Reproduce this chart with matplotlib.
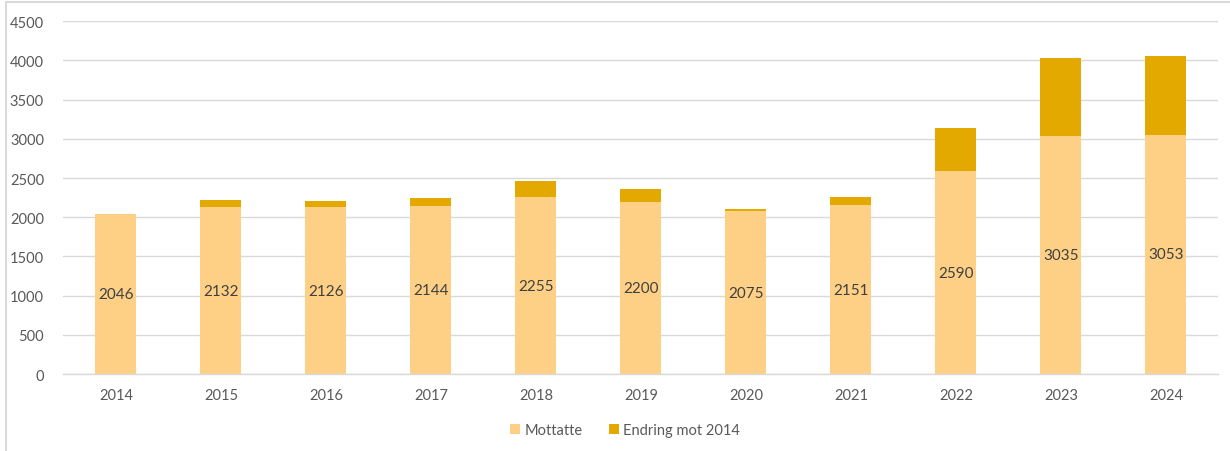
import numpy as np
import matplotlib.pyplot as plt
from matplotlib.patches import Rectangle

years = ['2014', '2015', '2016', '2017', '2018', '2019', '2020', '2021', '2022', '2023', '2024']
mottatte = [2046, 2132, 2126, 2144, 2255, 2200, 2075, 2151, 2590, 3035, 3053]
endring = [0, 86, 80, 98, 209, 154, 29, 105, 544, 989, 1007]

plt.rcParams['font.family'] = ['Lato', 'DejaVu Sans']

fig = plt.figure(figsize=(12.3, 4.52), dpi=100)
ax = fig.add_axes([0.0516, 0.170, 0.939, 0.781])

x = np.arange(len(years))
ax.bar(x, mottatte, width=0.39, color='#FDD086', label='Mottatte', zorder=2)
ax.bar(x, endring, width=0.39, bottom=mottatte, color='#E3A900', label='Endring mot 2014', zorder=2)

# labels in the middle of the lower segment
for xi, v in zip(x, mottatte):
    ax.text(xi, v / 2, str(v), ha='center', va='center', fontsize=11, color='#404040')

ax.set_xlim(-0.5, len(years) - 0.5)
ax.set_ylim(0, 4500)
ax.set_yticks(np.arange(0, 4501, 500))
ax.set_xticks(x)
ax.set_xticklabels(years)
ax.tick_params(axis='both', length=0, labelsize=10.5, colors='#595959')
ax.tick_params(axis='y', pad=14)
ax.tick_params(axis='x', pad=10)
ax.yaxis.grid(True, color='#D9D9D9', linewidth=1, zorder=0)
for s in ['top', 'right', 'left']:
    ax.spines[s].set_visible(False)
ax.spines['bottom'].set_color('#D9D9D9')
ax.spines['bottom'].set_linewidth(1)

fig.legend(loc='center', bbox_to_anchor=(0.508, 0.047), ncol=2, frameon=False,
           fontsize=10.5, handlelength=0.7, handleheight=0.7, handletextpad=0.3,
           columnspacing=1.8, labelcolor='#595959')

# chart border
fig.patches.append(Rectangle((6 / 1230, -0.1), 1.2, 1.1 - 3 / 452,
                             transform=fig.transFigure, fill=False,
                             edgecolor='#D9D9D9', linewidth=1.5))

fig.savefig('out.png', dpi=100)
